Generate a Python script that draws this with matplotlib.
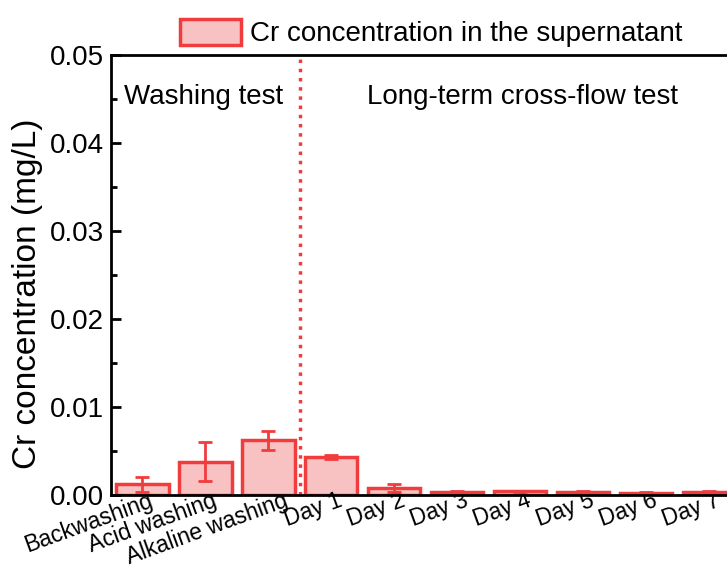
import matplotlib.pyplot as plt
import matplotlib.transforms as mtransforms
from matplotlib.ticker import MultipleLocator

plt.rcParams['font.family'] = ['Liberation Sans', 'DejaVu Sans']

# Data
categories = ["Backwashing", "Acid washing", "Alkaline washing", "Day 1", "Day 2",
              "Day 3", "Day 4", "Day 5", "Day 6", "Day 7"]
cr_conc = [0.0012, 0.0038, 0.0062, 0.0043, 0.0008, 0.0003, 0.0004, 0.0003, 0.0002, 0.0003]
cr_err = [0.0009, 0.0022, 0.0011, 0.0002, 0.0005, 0.0001, 0.0001, 0.0001, 0.0001, 0.0001]

red = "#f03c3c"
pink = "#f9c2c2"

fig = plt.figure(figsize=(7.27, 5.68), dpi=100)
ax = fig.add_axes([0.1527, 0.1285, 0.866, 0.7746])

x = list(range(len(categories)))
ax.bar(x, cr_conc, width=0.83, color=pink, edgecolor=red, linewidth=2.5,
       label="Cr concentration in the supernatant")
ax.errorbar(x, cr_conc, yerr=cr_err, fmt='none', ecolor=red, elinewidth=2,
            capsize=5, capthick=2)

# divider between the two tests
ax.axvline(2.5, color=red, linestyle=':', linewidth=2.5)
ax.text(0.97, 0.0452, "Washing test", fontsize=20, ha='center', va='center')
ax.text(6.03, 0.0452, "Long-term cross-flow test", fontsize=20, ha='center', va='center')

ax.set_xlim(-0.5, 9.5)
ax.set_ylim(0, 0.05)
ax.yaxis.set_major_locator(MultipleLocator(0.01))
ax.yaxis.set_minor_locator(MultipleLocator(0.005))
ax.yaxis.set_major_formatter(plt.FormatStrFormatter('%.2f'))
ax.tick_params(axis='y', which='major', direction='in', length=7, width=2, labelsize=20, pad=5)
ax.tick_params(axis='y', which='minor', direction='in', length=4, width=2)
ax.tick_params(axis='x', length=0, labelsize=16.5, pad=0)
ax.set_xticks(x)
ax.set_xticklabels(categories, rotation=20, ha='right', rotation_mode='anchor')
# nudge the rotated labels a little to the right, like the original
for i, lbl in enumerate(ax.get_xticklabels()):
    dx = 15 if i == 2 else 6
    lbl.set_transform(lbl.get_transform() +
                      mtransforms.ScaledTranslation(dx / 100, 0.06, fig.dpi_scale_trans))

ax.set_ylabel("Cr concentration (mg/L)", fontsize=24)
ax.yaxis.set_label_coords(-0.108, 0.457)

for side in ['left', 'top', 'bottom']:
    ax.spines[side].set_linewidth(2)
ax.spines['right'].set_visible(False)

ax.legend(loc='center', bbox_to_anchor=(0.593, 0.942), bbox_transform=fig.transFigure,
          frameon=False, fontsize=20, handlelength=2.2, handleheight=1.1,
          handletextpad=0.3)

plt.savefig("out.png", dpi=100)
